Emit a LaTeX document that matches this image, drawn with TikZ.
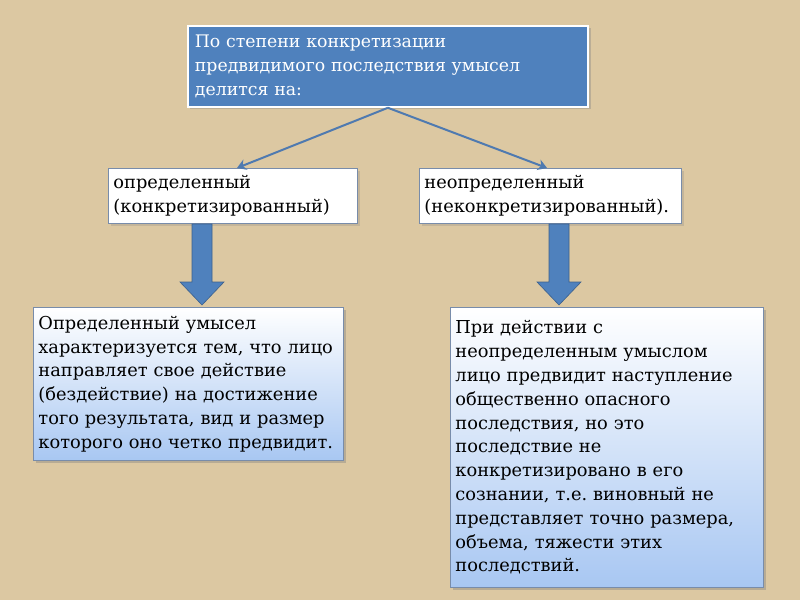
\documentclass[tikz,border=0pt]{standalone}
\usepackage{fontspec}
\setmainfont{DejaVu Serif}
\frenchspacing
\usetikzlibrary{shadows,arrows.meta}
\definecolor{bgbeige}{RGB}{220,200,162}
\definecolor{topblue}{RGB}{79,129,189}
\definecolor{linkblue}{RGB}{79,122,176}
\definecolor{boxedge}{RGB}{120,140,170}
\definecolor{gradlow}{RGB}{168,199,242}
\definecolor{arrowedge}{RGB}{60,96,140}
\tikzset{
  topbox/.style={draw=white, line width=1.8pt, fill=topblue, text=white,
    anchor=north west, inner xsep=7pt, inner ysep=0pt, align=left,
    font=\fontsize{17.3}{24}\selectfont, drop shadow={opacity=0.35}},
  midbox/.style={draw=boxedge, line width=0.9pt, fill=white, text=black,
    anchor=north west, inner xsep=5pt, inner ysep=0pt, align=left,
    font=\fontsize{17.8}{24}\selectfont, drop shadow={opacity=0.25}},
  lowbox/.style={draw=boxedge, line width=0.9pt, top color=white, bottom color=gradlow,
    text=black, anchor=north west, inner xsep=5pt, inner ysep=0pt, align=left,
    font=\fontsize{17.8}{23.8}\selectfont, drop shadow={opacity=0.4}},
  link/.style={draw=linkblue, line width=2pt, -{Stealth[length=9pt,width=11pt]}},
  blockarrow/.style={fill=topblue, draw=arrowedge, line width=0.6pt},
}
\begin{document}
\begin{tikzpicture}[x=1pt,y=-1pt]
\fill[bgbeige] (0,0) rectangle (800,600);
\useasboundingbox (0,0) rectangle (800,600);

\node[topbox, text width=386pt, minimum height=81pt] (top) at (187,25)
  {По степени конкретизации\\предвидимого последствия умысел\\делится на:};

\node[midbox, text width=239pt, minimum height=55pt] (left) at (108,168)
  {определенный\\(конкретизированный)};
\node[midbox, text width=252pt, minimum height=55pt] (right) at (419,168)
  {неопределенный\\(неконкретизированный).};

\node[lowbox, text width=300pt, minimum height=153pt] (lowleft) at (33,307)
  {Определенный умысел\\характеризуется тем, что лицо\\направляет свое действие\\(бездействие) на достижение\\того результата, вид и размер\\которого оно четко предвидит.};
\node[lowbox, text width=303pt, minimum height=280pt] (lowright) at (450,307)
  {При действии с\\неопределенным умыслом\\лицо предвидит наступление\\общественно опасного\\последствия, но это\\последствие не\\конкретизировано в его\\сознании, т.е. виновный не\\представляет точно размера,\\объема, тяжести этих\\последствий.};

\coordinate (lt) at (237,168);
\coordinate (rt) at (547,168);
\draw[link] (top.south) -- (lt);
\draw[link] (top.south) -- (rt);

% block arrows
\draw[blockarrow] (192,224) -- (212,224) -- (212,282) -- (224,282) -- (202,305)
  -- (180,282) -- (192,282) -- cycle;
\draw[blockarrow] (549,224) -- (569,224) -- (569,282) -- (581,282) -- (559,305)
  -- (537,282) -- (549,282) -- cycle;
\end{tikzpicture}
\end{document}
